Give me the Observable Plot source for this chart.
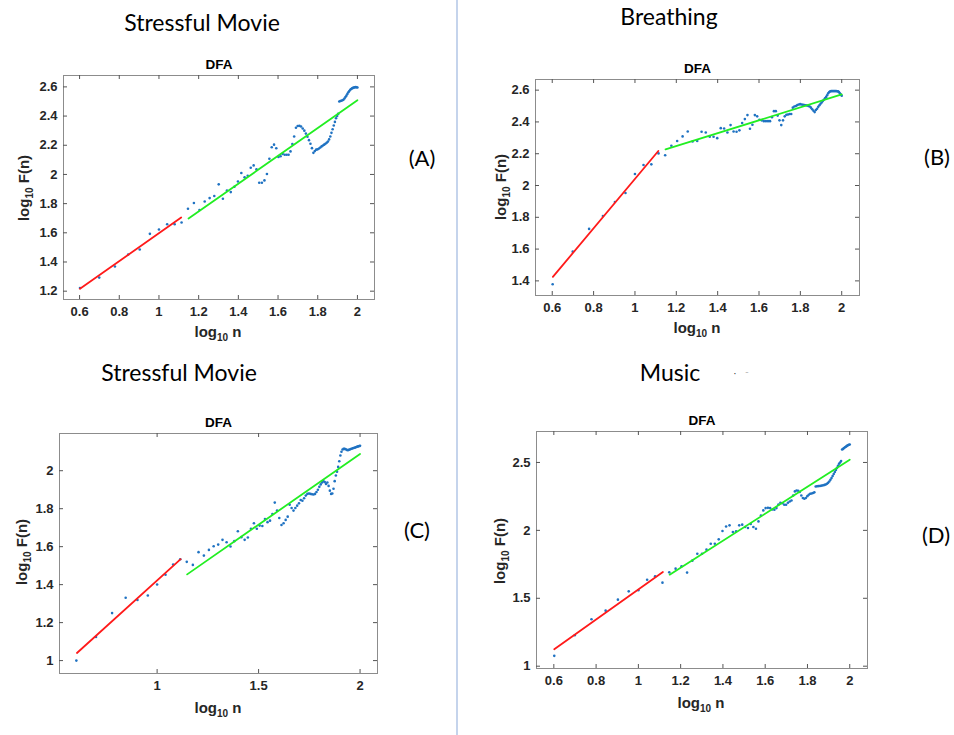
<!DOCTYPE html>
<html><head><meta charset="utf-8">
<script src="https://cdn.jsdelivr.net/npm/d3@7"></script>
<script src="https://cdn.jsdelivr.net/npm/@observablehq/plot@0.6"></script>
<style>
html,body{margin:0;padding:0;background:#fff;}
#page{position:relative;width:954px;height:735px;overflow:hidden;background:#fff;}
.abs{position:absolute;white-space:nowrap;line-height:1;}
.title{font-family:Lato,"Open Sans",sans-serif;font-size:23px;color:#000;transform:translate(-50%,-50%);}
.tag{font-family:Lato,"Open Sans",sans-serif;font-size:22px;color:#000;transform:translate(-50%,-50%);}
.axlab{font-family:"Liberation Sans",Arial,sans-serif;font-weight:bold;font-size:15px;color:#262626;}
.axlab .sb{font-size:10px;position:relative;top:4px;}
.speck{font-family:"Liberation Sans",Arial,sans-serif;font-size:10px;color:#333;transform:translate(-50%,-50%);}
.divider{position:absolute;left:456px;top:0;width:2px;height:735px;background:#c5d4ec;}
</style></head><body><div id="page"><div class="divider"></div></div>
<script>
// window sizes n (x axis shows log10 n)
const windowSizes = [4,5,6,7,8,9,10,11,12,13,14,15,16,17,18,19,20,21,22,23,24,25,26,27,28,29,30,31,32,33,34,35,36,37,38,39,40,41,42,43,44,45,46,47,48,49,50,51,52,53,54,55,56,57,58,59,60,61,62,63,64,65,66,67,68,69,70,71,72,73,74,75,76,77,78,79,80,81,82,83,84,85,86,87,88,89,90,91,92,93,94,95,96,97,98,99,100];

// log10 F(n) per panel
const stressA = [1.222,1.293,1.369,1.451,1.486,1.593,1.623,1.659,1.659,1.671,
1.765,1.804,1.756,1.815,1.838,1.852,1.932,1.833,1.890,1.879,
1.916,1.952,2.010,1.980,1.991,2.046,2.062,2.035,1.943,1.943,
1.959,2.003,2.108,2.186,2.204,2.179,2.119,2.125,2.140,2.135,
2.135,2.135,2.158,2.209,2.260,2.320,2.332,2.333,2.328,2.315,
2.300,2.280,2.258,2.235,2.210,2.180,2.148,2.160,2.170,2.172,
2.178,2.185,2.192,2.198,2.204,2.210,2.217,2.225,2.240,2.260,
2.285,2.310,2.335,2.360,2.385,2.400,2.415,2.500,2.503,2.505,
2.508,2.512,2.520,2.530,2.540,2.552,2.563,2.572,2.580,2.586,
2.590,2.593,2.595,2.597,2.598,2.597,2.596];

const breathing = [1.379,1.584,1.727,1.808,1.896,1.953,2.072,2.129,2.133,2.202,
2.190,2.250,2.280,2.309,2.340,2.277,2.280,2.338,2.334,2.307,
2.307,2.298,2.361,2.359,2.334,2.380,2.340,2.338,2.347,2.393,
2.418,2.443,2.357,2.382,2.443,2.435,2.414,2.410,2.405,2.405,
2.405,2.405,2.430,2.468,2.468,2.440,2.410,2.380,2.410,2.435,
2.445,2.447,2.450,2.450,2.490,2.497,2.500,2.506,2.510,2.512,
2.510,2.508,2.506,2.505,2.503,2.500,2.497,2.490,2.480,2.470,
2.462,2.475,2.483,2.495,2.505,2.514,2.522,2.531,2.540,2.548,
2.556,2.568,2.580,2.588,2.592,2.594,2.594,2.594,2.594,2.594,
2.594,2.593,2.592,2.588,2.580,2.572,2.565];

const stressC = [1.000,1.124,1.250,1.331,1.319,1.343,1.401,1.452,1.506,1.534,
1.520,1.504,1.571,1.553,1.583,1.602,1.611,1.636,1.623,1.601,
1.629,1.681,1.650,1.636,1.648,1.694,1.723,1.694,1.711,1.709,
1.746,1.729,1.737,1.772,1.832,1.790,1.751,1.714,1.723,1.741,
1.758,1.821,1.804,1.790,1.804,1.816,1.828,1.846,1.842,1.855,
1.869,1.878,1.880,1.878,1.876,1.875,1.878,1.888,1.900,1.915,
1.928,1.938,1.945,1.940,1.930,1.938,1.920,1.895,1.878,1.880,
1.905,1.945,1.975,1.995,2.020,2.050,2.080,2.100,2.112,2.115,
2.115,2.113,2.110,2.108,2.110,2.112,2.114,2.116,2.118,2.120,
2.121,2.123,2.125,2.127,2.128,2.130,2.131];

const music = [1.076,1.228,1.346,1.409,1.490,1.551,1.559,1.637,1.662,1.615,
1.691,1.718,1.735,1.689,1.777,1.828,1.828,1.858,1.902,1.902,
1.934,1.995,2.029,2.037,1.988,1.993,2.037,2.042,2.025,2.017,
2.047,2.025,2.012,2.066,2.110,2.147,2.164,2.166,2.164,2.154,
2.152,2.164,2.191,2.203,2.200,2.189,2.189,2.203,2.213,2.220,
2.257,2.287,2.294,2.292,2.282,2.257,2.238,2.233,2.238,2.252,
2.262,2.270,2.272,2.275,2.280,2.323,2.325,2.326,2.327,2.328,
2.330,2.332,2.335,2.338,2.343,2.350,2.360,2.372,2.385,2.400,
2.415,2.430,2.445,2.460,2.475,2.490,2.500,2.510,2.595,2.600,
2.607,2.612,2.617,2.622,2.626,2.630,2.632];

// fitted segments [log10 n, log10 F(n)] endpoints
const fitRedA = [[0.602,1.216],[1.112,1.705]];
const fitGreenA = [[1.149,1.698],[2.0,2.508]];
const fitRedB = [[0.603,1.425],[1.113,2.217]];
const fitGreenB = [[1.148,2.227],[2.0,2.573]];
const fitRedC = [[0.605,1.040],[1.116,1.534]];
const fitGreenC = [[1.148,1.454],[2.0,2.088]];
const fitRedD = [[0.602,1.125],[1.116,1.694]];
const fitGreenD = [[1.148,1.674],[2.0,2.520]];

// axes
const xDomainAll = [0.519, 2.086];
const xDomainD = [0.518, 2.084];
const xTicksFine = [0.6,0.8,1,1.2,1.4,1.6,1.8,2];
const xTicksC = [1,1.5,2];
const yDomainA = [1.143, 2.678];
const yDomainB = [1.308, 2.667];
const yDomainC = [0.932, 2.196];
const yDomainD = [0.983, 2.728];
const yTicksA = [1.2,1.4,1.6,1.8,2,2.2,2.4,2.6];
const yTicksB = [1.4,1.6,1.8,2,2.2,2.4,2.6];
const yTicksC = [1,1.2,1.4,1.6,1.8,2];
const yTicksD = [1,1.5,2,2.5];

// texts
const panelTitles = ["Stressful Movie","Breathing","Stressful Movie","Music"];
const panelTags = ["(A)","(B)","(C)","(D)"];
const plotTitle = "DFA";

const page = document.getElementById("page");

const panels = [
  {y: stressA, red: fitRedA, green: fitGreenA, xd: xDomainAll, yd: yDomainA, xt: xTicksFine, yt: yTicksA,
   frame: [63, 75, 374, 299], title: [202, 22], tag: [422, 158], xl: [218, 331], yl: [23, 188]},
  {y: breathing, red: fitRedB, green: fitGreenB, xd: xDomainAll, yd: yDomainB, xt: xTicksFine, yt: yTicksB,
   frame: [535, 79, 859, 295], title: [669, 16], tag: [937, 157], xl: [697, 327], yl: [500, 187]},
  {y: stressC, red: fitRedC, green: fitGreenC, xd: xDomainAll, yd: yDomainC, xt: xTicksC, yt: yTicksC,
   frame: [59, 433, 377, 673], title: [179, 372], tag: [417, 530], xl: [218, 707], yl: [21, 552]},
  {y: music, red: fitRedD, green: fitGreenD, xd: xDomainD, yd: yDomainD, xt: xTicksFine, yt: yTicksD,
   frame: [536, 431, 867, 668], title: [670, 372], tag: [936, 535], xl: [701, 702], yl: [499, 551]}
];

function addText(cls, html, x, y, extra) {
  const d = document.createElement("div");
  d.className = "abs " + cls;
  d.innerHTML = html;
  d.style.left = x + "px";
  d.style.top = y + "px";
  if (extra) d.style.transform = extra;
  page.appendChild(d);
}

const fmt = d => String(d);

panels.forEach((p, i) => {
  const mL = 45, mT = 25, mR = 12, mB = 30;
  const [L, T, R, B] = p.frame;
  const fw = R - L, fh = B - T;
  const pts = windowSizes.map((n, k) => ({x: Math.log10(n), y: p.y[k]}));
  const chart = Plot.plot({
    width: mL + fw + mR, height: mT + fh + mB,
    marginLeft: mL, marginTop: mT, marginRight: mR, marginBottom: mB,
    x: {domain: p.xd},
    y: {domain: p.yd},
    style: {fontFamily: "'Liberation Sans', Arial, sans-serif", fontSize: "13px", fontWeight: "bold", color: "#262626", background: "transparent", overflow: "visible"},
    marks: [
      Plot.frame({stroke: "#8c8c8c", strokeWidth: 1}),
      Plot.tickX(p.xt, {x: d => d, insetTop: fh - 4, stroke: "#555"}),
      Plot.tickX(p.xt, {x: d => d, insetBottom: fh - 4, stroke: "#555"}),
      Plot.tickY(p.yt, {y: d => d, insetRight: fw - 4, stroke: "#555"}),
      Plot.tickY(p.yt, {y: d => d, insetLeft: fw - 4, stroke: "#555"}),
      Plot.axisX(p.xt, {tickSize: 0, tickPadding: 7, label: null, tickFormat: fmt, fill: "#262626"}),
      Plot.axisY(p.yt, {tickSize: 0, tickPadding: 6, label: null, tickFormat: fmt, fill: "#262626"}),
      Plot.dot(pts, {x: "x", y: "y", r: 1.3, fill: "#1f72c2", stroke: null}),
      Plot.line(p.red, {x: d => d[0], y: d => d[1], stroke: "#ff1a1a", strokeWidth: 1.8}),
      Plot.line(p.green, {x: d => d[0], y: d => d[1], stroke: "#22ee22", strokeWidth: 1.8}),
      Plot.text([plotTitle], {frameAnchor: "top", lineAnchor: "middle", dy: -11, fontWeight: "bold", fontSize: 13.5, fill: "#000"})
    ]
  });
  chart.style.position = "absolute";
  chart.style.left = (L - mL) + "px";
  chart.style.top = (T - mT) + "px";
  page.appendChild(chart);

  addText("title", panelTitles[i], p.title[0], p.title[1]);
  addText("tag", panelTags[i], p.tag[0], p.tag[1]);
  addText("axlab", 'log<span class="sb">10</span> n', p.xl[0], p.xl[1], "translate(-50%,-50%)");
  addText("axlab", 'log<span class="sb">10</span> F(n)', p.yl[0], p.yl[1], "translate(-50%,-50%) rotate(-90deg)");
});

// stray specks next to the "Music" heading in the source image
addText("speck", "·", 735, 374);
addText("speck", "<span style='color:#bbb'>-</span>", 747, 372);
</script>
</body></html>
